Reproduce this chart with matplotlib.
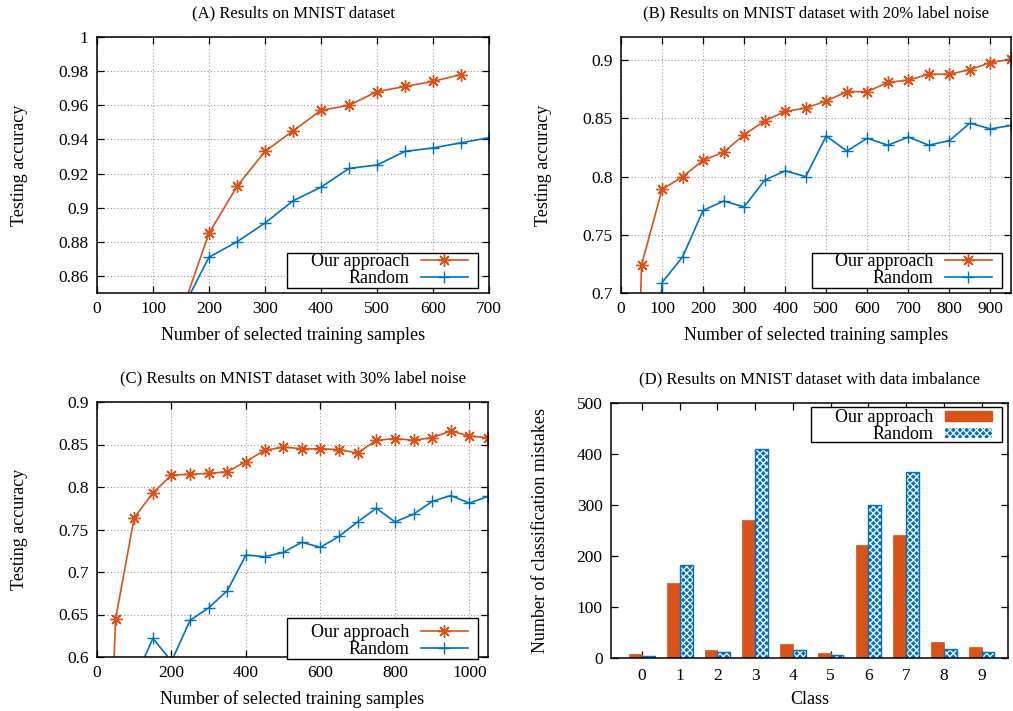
import numpy as np
import matplotlib
matplotlib.use("Agg")
import matplotlib.pyplot as plt
from matplotlib.patches import Patch, Rectangle
from matplotlib.ticker import FuncFormatter

plt.rcParams["font.family"] = ["Liberation Serif", "DejaVu Serif"]
plt.rcParams["hatch.linewidth"] = 0.9

ORANGE = "#d95319"
BLUE = "#0072bd"

# ---- data -------------------------------------------------------------
# (A) MNIST
a_x_ours = [150, 200, 250, 300, 350, 400, 450, 500, 550, 600, 650]
a_ours = [0.838, 0.885, 0.9125, 0.933, 0.945, 0.957, 0.960, 0.968, 0.971, 0.974, 0.978]
a_x_rand = [150, 200, 250, 300, 350, 400, 450, 500, 550, 600, 650, 700]
a_rand = [0.839, 0.871, 0.880, 0.891, 0.904, 0.912, 0.923, 0.925, 0.933, 0.935, 0.938, 0.941]

# (B) 20% label noise
b_x_ours = [0, 50, 100, 150, 200, 250, 300, 350, 400, 450, 500,
            550, 600, 650, 700, 750, 800, 850, 900, 950]
b_ours = [0.10, 0.724, 0.789, 0.800, 0.814, 0.821, 0.836, 0.848, 0.856, 0.859, 0.865,
          0.873, 0.873, 0.881, 0.883, 0.888, 0.888, 0.892, 0.898, 0.901]
b_x_rand = [0, 100, 150, 200, 250, 300, 350, 400, 450, 500,
            550, 600, 650, 700, 750, 800, 850, 900, 950]
b_rand = [0.10, 0.709, 0.731, 0.771, 0.779, 0.774, 0.797, 0.805, 0.800, 0.835,
          0.822, 0.833, 0.827, 0.834, 0.827, 0.831, 0.846, 0.841, 0.844]

# (C) 30% label noise
c_x_ours = [0, 50, 100, 150, 200, 250, 300, 350, 400, 450, 500,
            550, 600, 650, 700, 750, 800, 850, 900, 950, 1000, 1050]
c_ours = [0.10, 0.645, 0.764, 0.793, 0.814, 0.815, 0.816, 0.818, 0.830, 0.843, 0.847,
          0.845, 0.845, 0.844, 0.840, 0.855, 0.857, 0.855, 0.858, 0.866, 0.860, 0.858]
c_x_rand = [100, 150, 200, 250, 300, 350, 400, 450, 500, 550,
            600, 650, 700, 750, 800, 850, 900, 950, 1000, 1050]
c_rand = [0.572, 0.622, 0.595, 0.643, 0.658, 0.678, 0.720, 0.718, 0.723, 0.735,
          0.729, 0.742, 0.759, 0.775, 0.759, 0.768, 0.783, 0.790, 0.781, 0.789]

# (D) data imbalance
classes = [0, 1, 2, 3, 4, 5, 6, 7, 8, 9]
d_ours = [8, 148, 15, 270, 28, 10, 222, 242, 31, 21]
d_rand = [4, 182, 12, 410, 15, 5, 300, 364, 17, 11]

labels = ["Our approach", "Random"]

fig = plt.figure(figsize=(10.13, 7.11), dpi=100)
W, H = 1013, 711


def px_axes(l, t, r, b):
    return fig.add_axes([l / W, 1 - b / H, (r - l) / W, (b - t) / H])


def style(ax, grid=True):
    for s in ax.spines.values():
        s.set_linewidth(1.1)
    ax.tick_params(direction="in", top=True, right=True, length=5, width=0.9,
                   labelsize=12.5, pad=6)
    if grid:
        ax.grid(True, color="#9a9a9a", linestyle=(0, (1, 2)), linewidth=0.8)
    ax.set_axisbelow(True)


def key_box(ax, handles, box, loc, anchor, hh=0.7):
    # gnuplot-style key: text right-aligned, sample on the right, wide frame
    x0, y0, x1, y1 = box
    ax.add_patch(Rectangle((x0, y0), x1 - x0, y1 - y0, transform=ax.transAxes,
                           facecolor="white", edgecolor="black", lw=1.0,
                           clip_on=False, zorder=4))
    leg = ax.legend(handles, labels, loc=loc, bbox_to_anchor=anchor,
                    markerfirst=False, fontsize=13, handlelength=2.6,
                    handleheight=hh, frameon=False, borderpad=0, labelspacing=0.0,
                    borderaxespad=0, handletextpad=0.65)
    leg.set_zorder(5)


fmt = FuncFormatter(lambda v, p: "{:g}".format(round(v, 4)))


def line_panel(ax, xo, yo, xr, yr, xlim, ylim, xticks, yticks, title, box, anchor):
    style(ax)
    lo, = ax.plot(xo, yo, color=ORANGE, lw=1.2, marker=(8, 2, 0), ms=9, mew=1.0)
    lr, = ax.plot(xr, yr, color=BLUE, lw=1.2, marker="+", ms=9, mew=1.0)
    ax.set_xlim(*xlim)
    ax.set_ylim(*ylim)
    ax.set_xticks(xticks)
    ax.set_yticks(yticks)
    ax.yaxis.set_major_formatter(fmt)
    ax.set_title(title, fontsize=12, pad=14)
    ax.set_xlabel("Number of selected training samples", fontsize=13, labelpad=6)
    ax.set_ylabel("Testing accuracy", fontsize=13, labelpad=22)
    key_box(ax, [lo, lr], box, "lower right", anchor)


axA = px_axes(97, 37, 489, 293)
line_panel(axA, a_x_ours, a_ours, a_x_rand, a_rand, (0, 700), (0.85, 1.0),
           range(0, 701, 100), [0.86, 0.88, 0.90, 0.92, 0.94, 0.96, 0.98, 1.0],
           "(A) Results on MNIST dataset",
           (0.485, 0.02, 0.972, 0.156), (0.946, 0.022))

axB = px_axes(621, 37, 1011, 293)
line_panel(axB, b_x_ours, b_ours, b_x_rand, b_rand, (0, 950), (0.7, 0.92),
           range(0, 901, 100), [0.7, 0.75, 0.8, 0.85, 0.9],
           "(B) Results on MNIST dataset with 20% label noise",
           (0.49, 0.02, 0.977, 0.156), (0.951, 0.022))

axC = px_axes(97, 402, 488, 657)
line_panel(axC, c_x_ours, c_ours, c_x_rand, c_rand, (0, 1050), (0.6, 0.9),
           range(0, 1001, 200), [0.6, 0.65, 0.7, 0.75, 0.8, 0.85, 0.9],
           "(C) Results on MNIST dataset with 30% label noise",
           (0.486, -0.008, 0.974, 0.153), (0.948, -0.004))

# ---- (D) bars ---------------------------------------------------------
axD = px_axes(611, 403, 1008, 658)
style(axD, grid=False)
x = np.array(classes)
bw = 0.34
axD.bar(x - bw / 2, d_ours, width=bw, color=ORANGE, edgecolor=ORANGE, linewidth=0.5)
axD.bar(x + bw / 2, d_rand, width=bw, color=BLUE, edgecolor="white", linewidth=0,
        hatch="xxxxx")
axD.bar(x + bw / 2, d_rand, width=bw, fill=False, edgecolor=BLUE, linewidth=1.0)
axD.set_xlim(-0.82, 9.7)
axD.set_ylim(0, 500)
axD.set_xticks(classes)
axD.set_yticks(range(0, 501, 100))
axD.tick_params(axis="x", pad=7)
axD.set_title("(D) Results on MNIST dataset with data imbalance", fontsize=12, pad=14)
axD.set_xlabel("Class", fontsize=13, labelpad=5)
axD.set_ylabel("Number of classification mistakes", fontsize=13, labelpad=20)
h_ours = Patch(facecolor=ORANGE, edgecolor=ORANGE)
h_rand = Patch(facecolor=BLUE, edgecolor="white", hatch="xxxxx", linewidth=0)
key_box(axD, [h_ours, h_rand], (0.504, 0.847, 0.985, 0.984), "upper right",
        (0.96, 0.976), hh=0.5)

fig.savefig("out.png", dpi=100)
